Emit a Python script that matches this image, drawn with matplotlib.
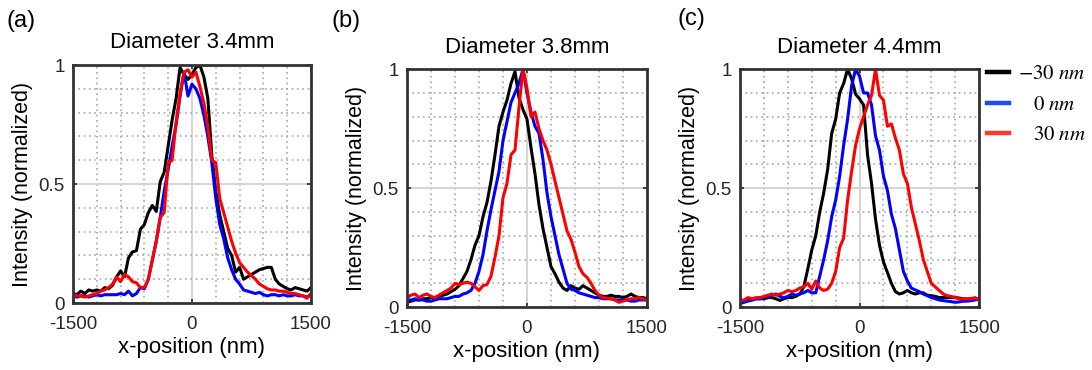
import numpy as np
import matplotlib
matplotlib.use('Agg')
import matplotlib.pyplot as plt
from matplotlib.ticker import MultipleLocator

plt.rcParams['font.family'] = ['Liberation Sans', 'DejaVu Sans']
plt.rcParams['mathtext.fontset'] = 'stix'

# x positions (nm), 50 nm steps
x_nm = np.arange(-1500, 1501, 50)

titles = ['Diameter 3.4mm', 'Diameter 3.8mm', 'Diameter 4.4mm']
panel_tags = ['(a)', '(b)', '(c)']
series_labels = [r'$-30\ nm$', r'$\ \ \ 0\ nm$', r'$\ \ \ 30\ nm$']
series_colors = ['black', '#0000ff', '#ff0000']
legend_colors = ['black', '#1a4cff', '#ff3a2a']

# panel (a)
a_m30 = [0.04, 0.035, 0.05, 0.04, 0.055, 0.05, 0.055, 0.05, 0.065, 0.06,
         0.075, 0.11, 0.135, 0.11, 0.19, 0.215, 0.22, 0.31, 0.33, 0.38,
         0.41, 0.385, 0.51, 0.55, 0.66, 0.77, 0.86, 0.99, 0.96, 0.94,
         0.96, 0.99, 1.0, 0.95, 0.86, 0.62, 0.47, 0.37, 0.3, 0.23,
         0.2, 0.13, 0.15, 0.1, 0.11, 0.12, 0.13, 0.14, 0.145, 0.15,
         0.15, 0.1, 0.08, 0.07, 0.06, 0.055, 0.065, 0.06, 0.055, 0.05, 0.065]
a_0 = [0.03, 0.025, 0.03, 0.03, 0.025, 0.03, 0.035, 0.03, 0.035, 0.035,
       0.035, 0.035, 0.04, 0.035, 0.05, 0.03, 0.04, 0.065, 0.06, 0.1,
       0.18, 0.26, 0.36, 0.47, 0.56, 0.66, 0.75, 0.87, 0.97, 0.87,
       0.92, 0.9, 0.86, 0.79, 0.7, 0.59, 0.44, 0.33, 0.27, 0.19,
       0.14, 0.1, 0.08, 0.055, 0.05, 0.045, 0.04, 0.045, 0.035, 0.03,
       0.035, 0.035, 0.03, 0.035, 0.03, 0.03, 0.035, 0.03, 0.03, 0.025, 0.035]
a_p30 = [0.035, 0.03, 0.03, 0.025, 0.03, 0.035, 0.04, 0.05, 0.055, 0.065,
         0.08, 0.11, 0.09, 0.12, 0.11, 0.09, 0.085, 0.065, 0.065, 0.1,
         0.18, 0.26, 0.36, 0.38, 0.59, 0.6, 0.76, 0.88, 0.97, 0.98,
         0.95, 0.97, 0.91, 0.84, 0.74, 0.6, 0.59, 0.44, 0.38, 0.32,
         0.26, 0.21, 0.17, 0.15, 0.13, 0.115, 0.1, 0.08, 0.07, 0.06,
         0.055, 0.055, 0.05, 0.05, 0.045, 0.04, 0.04, 0.035, 0.03, 0.02, 0.04]

# panel (b)
b_m30 = [0.02, 0.025, 0.03, 0.03, 0.035, 0.035, 0.04, 0.04, 0.045, 0.05,
         0.055, 0.065, 0.075, 0.09, 0.12, 0.15, 0.2, 0.26, 0.3, 0.38,
         0.44, 0.53, 0.64, 0.76, 0.82, 0.87, 0.94, 0.99, 0.88, 0.83,
         0.79, 0.67, 0.56, 0.43, 0.33, 0.25, 0.17, 0.14, 0.105, 0.08,
         0.07, 0.09, 0.08, 0.075, 0.09, 0.08, 0.07, 0.06, 0.05, 0.045,
         0.045, 0.05, 0.045, 0.045, 0.04, 0.045, 0.055, 0.045, 0.04, 0.04, 0.035]
b_0 = [0.03, 0.03, 0.035, 0.03, 0.03, 0.025, 0.025, 0.03, 0.035, 0.035,
       0.035, 0.04, 0.045, 0.045, 0.055, 0.06, 0.07, 0.1, 0.15, 0.22,
       0.32, 0.41, 0.49, 0.57, 0.7, 0.78, 0.86, 0.9, 0.94, 1.0,
       0.9, 0.82, 0.76, 0.73, 0.62, 0.48, 0.38, 0.3, 0.22, 0.16,
       0.1, 0.075, 0.07, 0.06, 0.055, 0.05, 0.045, 0.04, 0.04, 0.035,
       0.035, 0.035, 0.03, 0.03, 0.03, 0.03, 0.025, 0.025, 0.03, 0.03, 0.03]
b_p30 = [0.04, 0.05, 0.055, 0.04, 0.05, 0.055, 0.045, 0.04, 0.05, 0.06,
         0.07, 0.08, 0.1, 0.095, 0.1, 0.105, 0.1, 0.085, 0.07, 0.09,
         0.095, 0.13, 0.21, 0.3, 0.46, 0.52, 0.64, 0.66, 0.84, 1.0,
         0.92, 0.8, 0.82, 0.75, 0.7, 0.66, 0.6, 0.53, 0.46, 0.39,
         0.32, 0.285, 0.23, 0.17, 0.14, 0.125, 0.1, 0.07, 0.05, 0.04,
         0.038, 0.035, 0.03, 0.02, 0.025, 0.03, 0.035, 0.035, 0.04, 0.035, 0.03]

# panel (c)
c_m30 = [0.02, 0.025, 0.03, 0.03, 0.035, 0.035, 0.035, 0.04, 0.04, 0.035,
         0.028, 0.035, 0.04, 0.04, 0.045, 0.055, 0.085, 0.16, 0.24, 0.3,
         0.4, 0.48, 0.58, 0.73, 0.79, 0.9, 0.94, 1.0, 0.96, 0.895,
         0.875, 0.85, 0.64, 0.52, 0.37, 0.26, 0.19, 0.145, 0.1, 0.065,
         0.055, 0.06, 0.07, 0.06, 0.055, 0.06, 0.06, 0.05, 0.048, 0.045,
         0.04, 0.04, 0.04, 0.04, 0.04, 0.038, 0.035, 0.034, 0.035, 0.034, 0.035]
c_0 = [0.015, 0.02, 0.025, 0.03, 0.035, 0.035, 0.04, 0.045, 0.05, 0.055,
       0.045, 0.04, 0.045, 0.055, 0.05, 0.055, 0.06, 0.07, 0.06, 0.06,
       0.13, 0.2, 0.28, 0.38, 0.45, 0.55, 0.68, 0.79, 0.93, 1.0,
       0.97, 0.9, 0.9, 0.85, 0.72, 0.66, 0.55, 0.49, 0.39, 0.33,
       0.24, 0.15, 0.11, 0.08, 0.072, 0.065, 0.055, 0.048, 0.04, 0.035,
       0.03, 0.027, 0.025, 0.023, 0.02, 0.022, 0.025, 0.025, 0.027, 0.03, 0.034]
c_p30 = [0.027, 0.03, 0.04, 0.035, 0.04, 0.04, 0.045, 0.05, 0.055, 0.05,
         0.055, 0.06, 0.07, 0.065, 0.07, 0.08, 0.085, 0.1, 0.075, 0.11,
         0.08, 0.07, 0.075, 0.1, 0.15, 0.25, 0.29, 0.45, 0.57, 0.68,
         0.75, 0.8, 0.85, 0.89, 1.0, 0.89, 0.87, 0.76, 0.77, 0.71,
         0.66, 0.56, 0.52, 0.42, 0.35, 0.28, 0.2, 0.15, 0.1, 0.085,
         0.07, 0.055, 0.048, 0.045, 0.04, 0.035, 0.034, 0.034, 0.036, 0.04, 0.027]

panels = [(a_m30, a_0, a_p30), (b_m30, b_0, b_p30), (c_m30, c_0, c_p30)]

fig = plt.figure(figsize=(10.92, 3.70), dpi=100)
rects = [[0.0668, 0.181, 0.218, 0.643],
         [0.3727, 0.170, 0.2198, 0.643],
         [0.6777, 0.170, 0.2189, 0.643]]
tag_pos = [(0.006, 0.943), (0.304, 0.943), (0.620, 0.948)]

for k, (rect, curves) in enumerate(zip(rects, panels)):
    ax = fig.add_axes(rect)
    ax.set_xlim(-1500, 1500)
    ax.set_ylim(0, 1)
    ax.set_xticks([-1500, 0, 1500])
    ax.set_xticklabels(['-1500', '0', '1500'])
    ax.set_yticks([0, 0.5, 1])
    ax.set_yticklabels(['0', '0.5', '1'])
    ax.xaxis.set_minor_locator(MultipleLocator(300))
    ax.yaxis.set_minor_locator(MultipleLocator(0.1))
    ax.grid(which='major', color='#d4d4d4', lw=1.4, ls='-')
    ax.grid(which='minor', color='#a8a8a8', lw=1.2, ls=(0, (1, 2.2)))
    ax.set_axisbelow(True)
    ax.tick_params(which='major', direction='in', length=3, width=1.2,
                   top=True, right=True, labelsize=13.5, colors='#262626')
    ax.tick_params(axis='x', which='major', pad=9)
    ax.tick_params(axis='y', which='major', pad=6)
    ax.tick_params(which='minor', length=0)
    for sp in ax.spines.values():
        sp.set_linewidth(2)
        sp.set_color('#333333')
    for y, c, lab in zip(curves, series_colors, series_labels):
        ax.plot(x_nm, y, color=c, lw=2.2, label=lab)
    ax.set_title(titles[k], fontsize=16, pad=12)
    ax.set_xlabel('x-position (nm)', fontsize=16, labelpad=3)
    ax.set_ylabel('Intensity (normalized)', fontsize=15.5, labelpad=4)
    fig.text(tag_pos[k][0], tag_pos[k][1], panel_tags[k], fontsize=17,
             va='center', ha='left')
    if k == 2:
        leg = ax.legend(loc='upper left', bbox_to_anchor=(1.033, 1.02), frameon=False,
                        fontsize=15, handlelength=1.05, handletextpad=0.45,
                        labelspacing=0.55, borderaxespad=0, borderpad=0)
        for h, c in zip(leg.get_lines(), legend_colors):
            h.set_linewidth(3.2)
            h.set_color(c)

fig.savefig('out.png', dpi=100)
